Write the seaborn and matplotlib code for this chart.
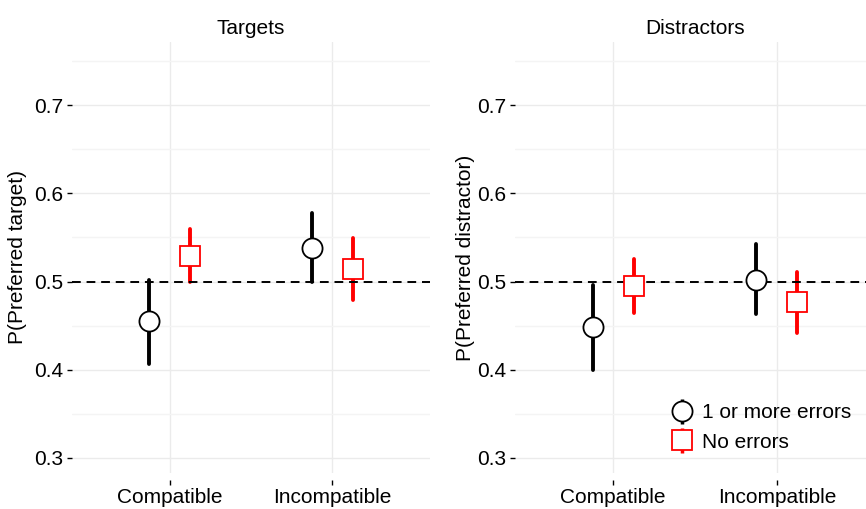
import numpy as np
import pandas as pd
import seaborn as sns
import matplotlib.pyplot as plt
from matplotlib.lines import Line2D
from matplotlib.legend_handler import HandlerTuple

# -----------------------------
# Data
# -----------------------------
conditions = ['Compatible', 'Incompatible']
groups = ['1 or more errors', 'No errors']

# Targets panel
tgt_err_mid = [0.455, 0.538]
tgt_err_lo = [0.407, 0.500]
tgt_err_hi = [0.502, 0.578]
tgt_none_mid = [0.529, 0.514]
tgt_none_lo = [0.499, 0.479]
tgt_none_hi = [0.560, 0.549]

# Distractors panel
dis_err_mid = [0.448, 0.502]
dis_err_lo = [0.400, 0.463]
dis_err_hi = [0.496, 0.542]
dis_none_mid = [0.495, 0.477]
dis_none_lo = [0.464, 0.442]
dis_none_hi = [0.526, 0.511]

colors = ['black', 'red']


def long_table(err_mid, err_lo, err_hi, none_mid, none_lo, none_hi):
    # three rows per point: lower bound, estimate, upper bound
    rows = []
    for g, (mid, lo, hi) in zip(groups, [(err_mid, err_lo, err_hi),
                                         (none_mid, none_lo, none_hi)]):
        for i, c in enumerate(conditions):
            for v in (lo[i], mid[i], hi[i]):
                rows.append({'condition': c, 'group': g, 'value': v})
    return pd.DataFrame(rows)


df_tgt = long_table(tgt_err_mid, tgt_err_lo, tgt_err_hi,
                    tgt_none_mid, tgt_none_lo, tgt_none_hi)
df_dis = long_table(dis_err_mid, dis_err_lo, dis_err_hi,
                    dis_none_mid, dis_none_lo, dis_none_hi)

# -----------------------------
# Style
# -----------------------------
sns.set_style('white')
plt.rcParams['font.family'] = ['Liberation Sans', 'DejaVu Sans']

fig = plt.figure(figsize=(8.66, 5.09), dpi=100)
W, H = 866, 509
bottom_px, top_px = 473, 42
ax1 = fig.add_axes([72 / W, 1 - bottom_px / H, 358 / W, (bottom_px - top_px) / H])
ax2 = fig.add_axes([515 / W, 1 - bottom_px / H, 360 / W, (bottom_px - top_px) / H])


def draw_panel(ax, data, title, ylabel, label_x):
    sns.pointplot(data=data, x='condition', y='value', hue='group',
                  order=conditions, hue_order=groups,
                  estimator='median', errorbar=lambda v: (v.min(), v.max()),
                  dodge=0.25, linestyle='none', markers=['o', 's'],
                  palette=colors, markersize=14.5, markeredgewidth=1.3,
                  err_kws={'linewidth': 2.8}, legend=False, ax=ax)
    for line in ax.lines:
        if line.get_marker() not in ('None', None, ''):
            line.set_markerfacecolor('white')
            line.set_zorder(5)
    ax.axhline(0.5, color='black', lw=1.4, dashes=(4.5, 3), zorder=3)

    ax.set_xlim(-0.6, 1.6)
    ax.set_ylim(0.283, 0.7714)
    ax.set_yticks([0.3, 0.4, 0.5, 0.6, 0.7])
    ax.set_yticks([0.35, 0.45, 0.55, 0.65, 0.75], minor=True)
    ax.grid(True, which='major', color='#ebebeb', lw=1.0, zorder=0)
    ax.yaxis.grid(True, which='minor', color='#f4f4f4', lw=1.0)
    ax.set_axisbelow(True)
    sns.despine(ax=ax, left=True, bottom=True)
    ax.spines['bottom'].set_position(('outward', 5))

    ax.tick_params(axis='both', which='major', labelsize=15, length=3.6,
                   width=1.0, color='black', labelcolor='black')
    ax.tick_params(axis='x', bottom=True, pad=2)
    ax.tick_params(axis='y', left=True, pad=2.5)
    ax.tick_params(which='minor', left=False, bottom=False)

    ax.set_xlabel('')
    ax.set_ylabel(ylabel, fontsize=15, color='black')
    ax.yaxis.set_label_coords(label_x, 0.5)
    ax.set_title(title, fontsize=15, pad=6, color='black')


draw_panel(ax1, df_tgt, 'Targets', 'P(Preferred target)', -0.125)
draw_panel(ax2, df_dis, 'Distractors', 'P(Preferred distractor)', -0.112)

# Legend with pointrange-style keys
handles = []
for g, c, m in zip(groups, colors, ['o', 's']):
    stem = Line2D([], [], marker='|', markersize=18, markeredgewidth=2.5,
                  color=c, linestyle='none')
    dot = Line2D([], [], marker=m, markersize=14.5, markerfacecolor='white',
                 markeredgecolor=c, markeredgewidth=1.3, linestyle='none')
    handles.append((stem, dot))

ax2.legend(handles, groups, handler_map={tuple: HandlerTuple(ndivide=1)},
           loc='center left', bbox_to_anchor=(672 / W, 1 - 427.5 / H),
           bbox_transform=fig.transFigure, frameon=False, fontsize=15,
           labelcolor='black', handlelength=1.0, handletextpad=0.45,
           labelspacing=0.5, borderpad=0, borderaxespad=0)

plt.savefig('out.png', dpi=100)
